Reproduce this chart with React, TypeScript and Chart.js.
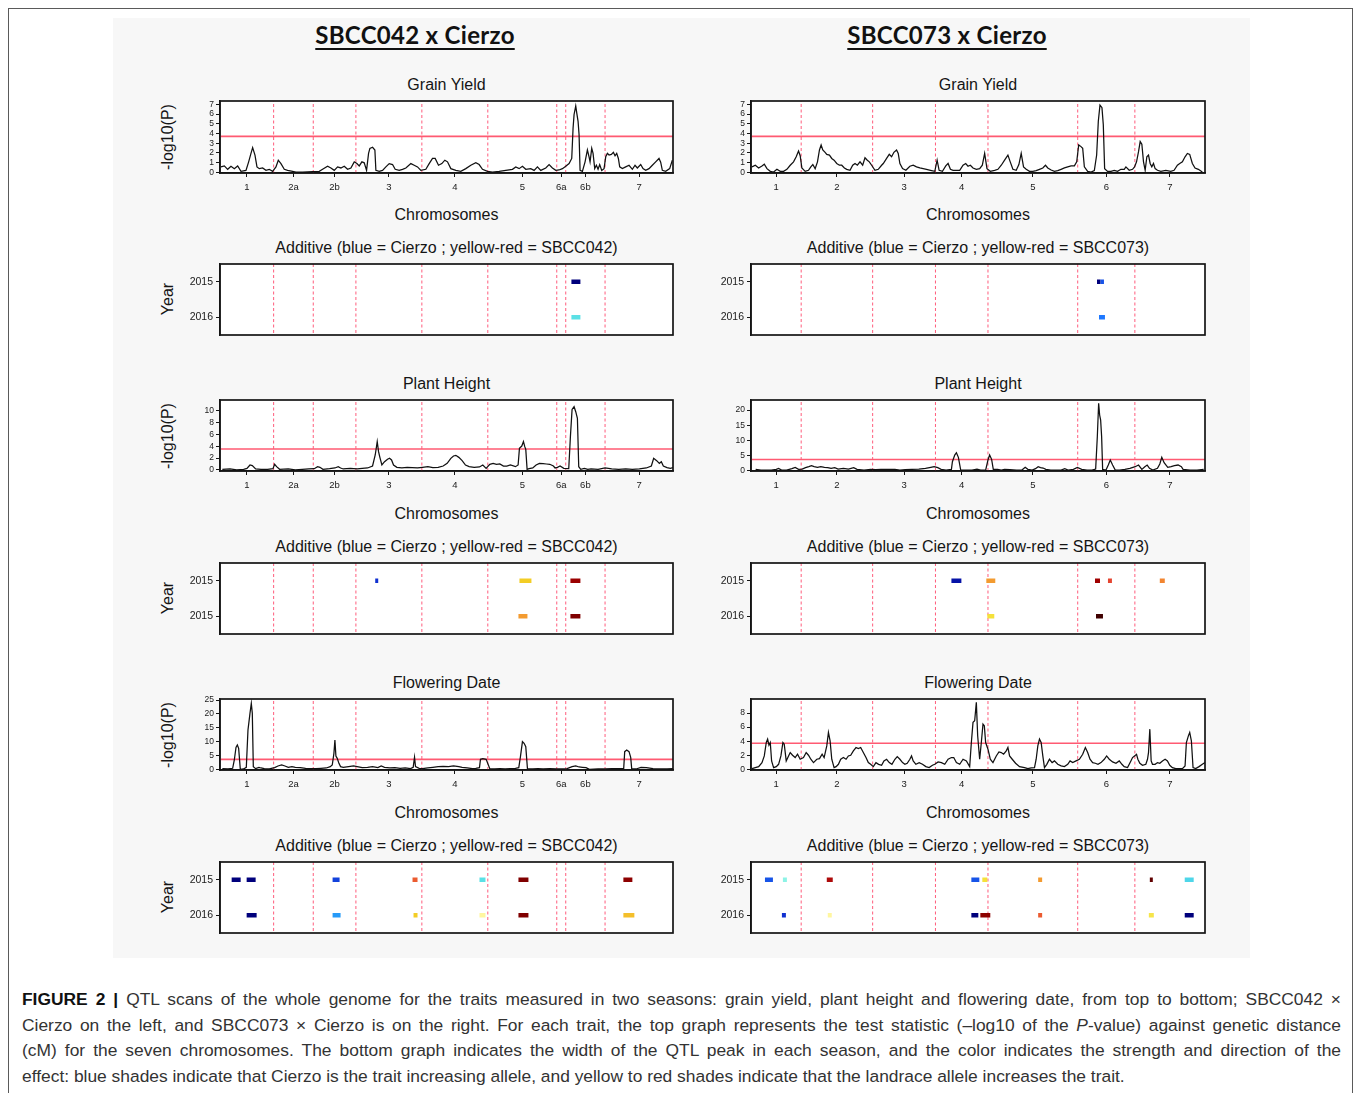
import React, { useEffect, useRef } from 'react';
import { Chart, registerables } from 'chart.js';

Chart.register(...registerables);

const FONT = '"Liberation Sans", Arial, Helvetica, sans-serif';
Chart.defaults.font.family = FONT;
Chart.defaults.color = '#1a1a1a';

// ---------- chromosome maps (cM) ----------
const map042Labels = ['1', '2a', '2b', '3', '4', '5', '6a', '6b', '7'];
const map042Lengths = [161, 119, 128, 198, 198, 207, 27, 118, 204];
const map073Labels = ['1', '2', '3', '4', '5', '6', '7'];
const map073Lengths = [151, 215, 189, 158, 270, 172, 211];

const yearRows = ['2015', '2016'];
const yearRowsPH042 = ['2015', '2015'];

// ---------- y ticks ----------
const ticksGY = [0, 1, 2, 3, 4, 5, 6, 7];
const ticksPH042 = [0, 2, 4, 6, 8, 10];
const ticksPH073 = [0, 5, 10, 15, 20];
const ticksFD042 = [0, 5, 10, 15, 20, 25];
const ticksFD073 = [0, 2, 4, 6, 8];

// significance thresholds (-log10 P)
const thrGY042 = 3.7;
const thrGY073 = 3.7;
const thrPH042 = 3.55;
const thrPH073 = 3.7;
const thrFD042 = 3.6;
const thrFD073 = 3.7;

// ---------- QTL scans: [cumulative cM, -log10(P)] ----------
const gy042 = [[3,0.56],[13,0.66],[23,0.31],[33,0.63],[43,0.38],[53,0.66],[63,0.1],[78,0.2],[86,1.08],[93,1.95],[98,2.54],[105,1.78],[111,0.56],[118,0.38],[128,0.45],[138,0.2],[148,0.31],[158,0.1],[168,0.56],[175,1.25],[183,0.9],[193,0.31],[203,0.2],[218,0.1],[228,0.03],[248,0.03],[278,0.07],[298,0.1],[308,0.31],[323,0.63],[333,0.45],[343,0.2],[353,0.56],[363,0.45],[373,0.63],[383,0.31],[393,0.45],[403,1.08],[411,0.9],[418,0.66],[426,1.08],[433,0.98],[440,0.2],[446,1.95],[450,2.47],[458,2.58],[465,2.3],[468,0.2],[478,0.1],[488,0.2],[498,0.56],[508,0.9],[518,0.8],[526,0.31],[538,0.2],[548,0.31],[558,0.45],[573,0.9],[583,0.73],[593,0.56],[603,0.2],[618,0.31],[628,0.9],[638,1.43],[646,1.43],[656,0.73],[666,0.9],[675,1.25],[683,1.08],[693,0.38],[708,0.2],[723,0.1],[738,0.38],[753,0.73],[768,0.98],[778,0.8],[788,0.31],[803,0.1],[818,0.03],[838,0.1],[858,0.2],[878,0.31],[888,0.56],[898,0.38],[908,0.63],[918,0.31],[933,0.38],[943,0.2],[953,0.56],[963,0.2],[978,0.45],[988,0.8],[998,0.45],[1008,0.2],[1018,0.24],[1028,0.38],[1038,0.63],[1048,0.9],[1056,1.43],[1060,4.56],[1063,5.96],[1068,6.83],[1071,6.13],[1075,5.26],[1078,3.87],[1081,0.2],[1088,0.1],[1096,1.08],[1103,2.3],[1108,1.6],[1111,1.08],[1116,2.47],[1120,1.95],[1125,0.38],[1130,0.73],[1135,0.31],[1140,0.8],[1146,0.2],[1153,0.38],[1158,1.6],[1163,1.95],[1168,1.78],[1175,1.85],[1181,2.06],[1186,1.7],[1191,1.95],[1196,1.43],[1200,0.56],[1208,0.38],[1218,0.56],[1228,0.73],[1238,0.31],[1246,0.73],[1253,0.45],[1263,0.8],[1270,0.38],[1278,0.2],[1288,0.38],[1298,0.73],[1308,1.08],[1318,1.43],[1323,1.05],[1328,0.2],[1338,0.1],[1350,0.38],[1358,1.25]];

const gy073 = [[3,0.56],[13,0.73],[23,0.45],[33,0.66],[40,0.84],[48,0.38],[58,0.1],[68,0.03],[78,0.31],[88,0.1],[98,0.1],[108,0.31],[118,0.73],[128,1.08],[136,1.6],[143,2.2],[148,1.71],[153,0.45],[163,0.1],[173,0.21],[180,0.56],[186,0.8],[193,0.38],[200,1.08],[206,2.3],[211,2.82],[216,2.3],[223,2.06],[228,1.85],[236,1.78],[243,1.43],[250,1.25],[258,0.91],[266,0.73],[273,0.73],[281,0.45],[288,0.31],[298,0.21],[306,0.73],[313,0.91],[320,0.73],[328,1.08],[336,0.73],[343,1.5],[350,1.25],[356,1.08],[363,0.73],[373,0.21],[383,0.31],[393,0.73],[398,0.91],[408,1.43],[416,1.85],[423,1.6],[430,2.06],[438,2.3],[443,1.95],[448,0.91],[456,0.38],[466,0.21],[478,0.63],[488,0.73],[498,0.56],[508,0.45],[518,0.38],[528,0.31],[540,0.21],[553,0.1],[560,1.25],[566,0.21],[576,0.1],[586,0.66],[593,0.91],[600,0.31],[608,0.21],[618,0.21],[628,0.21],[638,0.73],[646,0.91],[653,0.63],[660,0.73],[668,0.45],[678,0.31],[688,0.38],[696,0.73],[703,1.95],[710,0.38],[720,0.1],[733,0.21],[743,0.31],[753,0.73],[763,1.25],[773,1.78],[780,1.08],[788,0.31],[798,0.21],[806,0.8],[813,1.95],[820,0.56],[828,0.31],[838,0.1],[848,0.1],[858,0.17],[868,0.31],[878,0.45],[886,0.73],[893,0.45],[903,0.24],[913,0.1],[923,0.17],[933,0.31],[943,0.45],[953,0.56],[963,0.66],[973,0.66],[980,1.08],[986,2.82],[993,2.65],[998,2.47],[1003,0.56],[1013,0.1],[1023,0.03],[1033,0.17],[1040,1.78],[1045,5.26],[1050,6.93],[1056,6.66],[1060,4.91],[1064,0.38],[1073,0.1],[1083,0.1],[1093,0.21],[1103,0.1],[1113,0.31],[1123,0.31],[1128,0.56],[1138,0.21],[1148,0.31],[1154,0.56],[1160,1.08],[1166,2.13],[1171,3.17],[1176,2.89],[1181,1.08],[1186,0.21],[1191,1.6],[1196,1.78],[1201,0.91],[1206,0.56],[1211,0.91],[1216,0.38],[1223,0.21],[1233,0.1],[1248,0.21],[1263,0.1],[1273,0.21],[1283,0.73],[1290,0.91],[1298,1.08],[1306,1.6],[1313,1.95],[1320,1.85],[1328,0.91],[1336,0.45],[1346,0.31],[1358,0.03]];

const ph042 = [[7,0.11],[30,0.17],[50,0],[71,0.11],[81,0.28],[90,0.84],[97,0.73],[107,0.17],[123,0.11],[143,0.11],[159,0.22],[164,0.96],[170,0.56],[179,0.11],[205,0.17],[226,0],[247,0.11],[267,0.17],[283,0.22],[293,0.56],[300,0.45],[309,0.11],[329,0.22],[345,0.34],[355,0.56],[362,0.34],[370,0.17],[391,0.28],[412,0.17],[427,0.28],[443,0.34],[458,0.67],[466,2.53],[472,4.78],[476,3.09],[480,2.13],[486,0.84],[494,1.4],[503,1.8],[509,1.97],[515,1.69],[521,0.84],[531,0.45],[546,0.34],[562,0.45],[577,0.39],[593,0.34],[608,0.45],[624,0.56],[639,0.39],[655,0.45],[670,0.67],[682,1.12],[693,1.97],[701,2.36],[708,2.47],[717,2.13],[727,1.57],[737,0.84],[748,0.56],[763,0.45],[779,0.51],[789,0.84],[799,0.28],[810,0.96],[820,1.12],[830,0.96],[840,1.01],[851,0.67],[861,0.67],[872,0.84],[887,0.56],[895,0.84],[899,3.65],[906,4.04],[911,4.78],[915,3.93],[918,3.48],[922,0.11],[928,0.22],[939,0.34],[949,0.84],[959,1.12],[970,1.07],[980,1.01],[990,0.96],[1001,0.67],[1006,0.34],[1013,0.45],[1021,0.67],[1032,0.28],[1047,0.22],[1052,5.62],[1057,10.22],[1063,10.67],[1068,9.83],[1073,8.71],[1077,0.56],[1083,0.11],[1094,0.28],[1104,0.11],[1114,0.17],[1135,0.11],[1156,0.34],[1176,0.17],[1197,0.11],[1218,0.17],[1238,0.11],[1259,0.17],[1280,0.34],[1295,0.67],[1302,1.97],[1311,1.57],[1319,1.12],[1325,1.4],[1331,0.67],[1342,0.39],[1352,0.28],[1360,0.39]];

const ph073 = [[14,0.44],[30,0.22],[61,0.22],[76,0.44],[83,0.77],[92,0.22],[107,0.22],[123,0.66],[133,1.1],[143,0.44],[154,0.55],[164,0.99],[174,1.32],[182,1.65],[190,1.32],[200,1.1],[210,1.32],[221,1.1],[231,0.99],[241,0.77],[252,0.99],[262,0.55],[278,0.77],[293,0.55],[309,0.99],[319,0.44],[340,0.22],[360,0.44],[376,0.33],[391,0.44],[412,0.44],[433,0.44],[448,0.22],[464,0.33],[484,0.44],[505,0.55],[525,0.77],[541,1.1],[551,1.32],[562,0.99],[572,0.44],[587,0.22],[603,0.44],[606,2.97],[613,5.16],[618,5.93],[624,4.4],[631,0.22],[649,0.22],[665,0.22],[680,0.55],[691,0.22],[706,0.22],[713,3.52],[718,5.16],[724,3.74],[729,0.44],[742,0.44],[753,0.22],[763,0.44],[779,0.33],[799,0.22],[815,0.22],[825,1.1],[833,0.44],[846,0.22],[856,0.66],[864,1.32],[871,0.99],[879,0.88],[887,0.44],[902,0.22],[918,0.22],[933,0.22],[944,0.66],[954,0.22],[970,0.44],[982,1.1],[995,0.44],[1011,0.22],[1026,0.22],[1037,0.55],[1042,11.2],[1046,22.2],[1049,18.35],[1052,16.7],[1055,11.2],[1058,0.44],[1068,0.22],[1075,1.87],[1081,3.52],[1088,1.87],[1096,0.22],[1109,0.22],[1125,0.44],[1140,0.77],[1156,1.32],[1166,1.87],[1176,0.44],[1185,1.32],[1192,1.87],[1199,0.77],[1209,0.22],[1223,0.77],[1230,2.2],[1236,4.4],[1243,2.64],[1254,1.1],[1264,1.32],[1274,1.65],[1285,1.87],[1295,1.32],[1300,0.44],[1321,0.22],[1342,0.22],[1362,0.44]];

const fd042 = [[7,0.24],[24,0.12],[38,0.36],[43,3.37],[48,7.93],[52,8.77],[56,7.57],[61,0],[71,0.12],[79,0.72],[84,14.2],[90,20.2],[94,23.8],[97,20.2],[100,0.96],[107,0.24],[117,0.72],[123,0.48],[133,0.24],[148,0.12],[164,0.6],[174,1.2],[185,1.56],[195,1.2],[205,0.72],[216,0.96],[226,0.72],[241,0.6],[257,0.36],[272,0.24],[288,0.24],[303,0.36],[319,0.48],[331,0.96],[337,1.56],[342,5.77],[345,10.58],[348,4.81],[352,3.97],[357,2.16],[362,0.96],[370,0.72],[386,0.96],[401,1.2],[412,0.96],[427,0.6],[443,0.72],[458,0.96],[474,0.6],[484,1.2],[494,0.72],[510,0.48],[525,0.6],[541,0.36],[556,0.48],[572,0.24],[580,0.72],[584,4.33],[587,0.96],[598,0.36],[608,0.24],[624,0.48],[639,0.72],[655,0.96],[670,1.08],[686,0.96],[701,1.2],[717,0.96],[727,0.72],[742,0.48],[758,0.24],[768,0.36],[779,0.6],[782,3.6],[789,3.85],[799,3.6],[810,0.24],[825,0.12],[840,0.24],[856,0.12],[871,0.24],[887,0.36],[897,0.6],[902,4.57],[908,9.98],[913,9.38],[918,8.17],[923,0.24],[939,0.12],[954,0.24],[970,0.12],[990,0.24],[1011,0.12],[1026,0.12],[1042,0.24],[1057,0.96],[1068,1.2],[1078,0.84],[1088,0.72],[1099,0.6],[1109,0],[1135,0.12],[1156,0.12],[1176,0.24],[1197,0.24],[1212,0.36],[1215,6.37],[1221,6.97],[1228,6.37],[1233,4.33],[1236,0.24],[1249,0.12],[1264,0.72],[1280,0.6],[1300,0.24],[1321,0.12],[1342,0.12],[1360,0.24]];

const fd073 = [[3,0.1],[13,0.24],[23,0.38],[33,0.95],[40,1.9],[46,3.81],[50,4.29],[54,3.43],[58,3.81],[62,1.19],[68,0.24],[76,0.38],[83,0.71],[90,1.9],[96,3.81],[100,3.57],[106,1.19],[113,1.9],[118,2.38],[125,2.0],[133,1.67],[140,2.14],[148,1.43],[158,1.67],[166,2.38],[173,2.0],[180,1.43],[188,0.95],[198,1.43],[206,1.52],[214,2.14],[220,1.67],[228,3.33],[233,5.24],[238,4.05],[243,1.43],[250,0.24],[256,0.38],[263,0.71],[270,1.43],[278,1.67],[286,1.43],[293,1.9],[300,2.0],[308,2.62],[316,3.1],[323,2.95],[330,3.1],[338,2.38],[346,1.67],[353,0.95],[360,0.71],[368,0.38],[376,0.95],[384,0.71],[393,0.57],[400,1.19],[408,1.43],[416,0.95],[424,0.71],[433,1.43],[440,1.81],[448,1.43],[456,0.95],[463,0.71],[470,0.86],[478,1.43],[483,1.9],[488,1.19],[496,0.71],[506,0.95],[516,0.71],[526,0.38],[536,0.24],[546,0.57],[553,0.71],[563,1.05],[573,0.95],[583,0.71],[593,1.43],[603,1.67],[610,1.67],[618,0.95],[628,0.71],[638,1.43],[648,1.19],[658,0.38],[663,3.81],[668,6.67],[673,6.9],[678,9.52],[682,4.76],[688,1.43],[693,3.81],[698,6.43],[702,6.19],[706,3.81],[713,2.86],[720,1.43],[728,0.95],[738,1.9],[746,2.48],[753,2.38],[760,2.14],[768,2.62],[773,3.1],[778,1.9],[786,1.43],[796,0.86],[808,0.38],[823,0.24],[833,0.1],[843,0.19],[853,0.24],[858,1.43],[863,3.33],[868,4.29],[873,3.81],[878,1.9],[883,0.24],[890,0.71],[898,1.43],[906,0.95],[913,1.19],[923,0.71],[933,0.48],[943,0.38],[953,0.71],[960,1.19],[968,0.95],[978,1.19],[988,1.43],[998,2.14],[1006,3.1],[1013,2.38],[1020,1.43],[1028,0.95],[1036,0.86],[1044,0.71],[1053,0.95],[1063,1.43],[1070,1.9],[1078,1.43],[1088,1.05],[1098,0.86],[1108,1.19],[1116,0.71],[1123,0.38],[1133,0.24],[1143,1.19],[1148,1.67],[1154,1.9],[1160,2.14],[1164,1.43],[1170,0.86],[1178,0.57],[1188,0.71],[1193,1.43],[1196,2.38],[1200,5.71],[1204,1.19],[1208,0.71],[1216,0.71],[1223,0.95],[1230,0.86],[1238,1.19],[1246,1.43],[1253,1.19],[1260,0.57],[1268,0.24],[1278,0.1],[1288,0.1],[1298,0.1],[1306,0.48],[1310,3.81],[1316,4.76],[1320,5.24],[1325,4.05],[1330,0.24],[1338,0.1],[1348,0.38],[1358,0.71],[1366,0.95]];

// ---------- additive effects: [start cM, end cM, effect (-1 = Cierzo strong, +1 = landrace strong)] ----------
const addGY042_2015 = [[1055, 1082, -0.85]];
const addGY042_2016 = [[1055, 1082, -0.15]];
const addGY073_2015 = [[1041, 1051, -0.85], [1051, 1062, -0.5]];
const addGY073_2016 = [[1047, 1065, -0.4]];

const addPH042_2015 = [[466, 475, -0.6], [899, 935, 0.3], [1052, 1082, 0.86]];
const addPH042_2016 = [[896, 923, 0.45], [1052, 1082, 0.9]];
const addPH073_2015 = [[603, 633, -0.72], [708, 735, 0.45], [1035, 1050, 0.85], [1074, 1086, 0.65], [1230, 1245, 0.5]];
const addPH073_2016 = [[711, 732, 0.22], [1038, 1059, 1.0]];

const addFD042_2015 = [[35, 62, -0.85], [80, 107, -0.85], [338, 359, -0.55], [578, 593, 0.6], [779, 797, -0.15], [896, 926, 0.9], [1211, 1238, 0.88]];
const addFD042_2016 = [[80, 110, -0.85], [338, 362, -0.33], [581, 593, 0.3], [779, 797, 0.1], [896, 926, 0.9], [1211, 1244, 0.35]];
const addFD073_2015 = [[42, 66, -0.5], [96, 108, -0.08], [228, 246, 0.82], [663, 687, -0.5], [696, 711, 0.22], [864, 876, 0.45], [1200, 1209, 0.95], [1305, 1332, -0.18]];
const addFD073_2016 = [[93, 105, -0.6], [231, 243, 0.1], [663, 684, -0.85], [690, 720, 0.88], [864, 876, 0.6], [1197, 1212, 0.2], [1305, 1332, -0.85]];

// colour scale for additive effect
const effectStops: [number, string][] = [
  [-1, '#000050'], [-0.8, '#00008b'], [-0.6, '#1030d0'], [-0.4, '#1e78ff'], [-0.25, '#30c0f0'], [-0.1, '#70f0e0'],
  [0, '#ffffff'], [0.1, '#fff6a0'], [0.25, '#f2dc20'], [0.4, '#f5b030'], [0.55, '#f07030'], [0.7, '#e03030'],
  [0.85, '#a00000'], [1, '#400000'],
];

function hexToRgb(h: string) {
  return [parseInt(h.slice(1, 3), 16), parseInt(h.slice(3, 5), 16), parseInt(h.slice(5, 7), 16)];
}
function effectColor(e: number) {
  for (let i = 0; i < effectStops.length - 1; i++) {
    const [a, ca] = effectStops[i];
    const [b, cb] = effectStops[i + 1];
    if (e >= a && e <= b) {
      const t = (e - a) / (b - a);
      const A = hexToRgb(ca), B = hexToRgb(cb);
      const c = A.map((v, k) => Math.round(v + (B[k] - v) * t));
      return `rgb(${c[0]},${c[1]},${c[2]})`;
    }
  }
  return '#000';
}

function cumulative(lengths: number[]) {
  const out = [0];
  lengths.forEach((l) => out.push(out[out.length - 1] + l));
  return out;
}

type Box = { x: number; y: number; w: number; h: number };

const YW = 50;
const PT = 10;
const PR = 10;
const XH = 30;

const framePlugin = {
  id: 'frame',
  beforeDraw(chart: any) {
    const { ctx, chartArea: a } = chart;
    ctx.save();
    ctx.fillStyle = '#ffffff';
    ctx.fillRect(a.left, a.top, a.right - a.left, a.bottom - a.top);
    ctx.restore();
  },
  afterDraw(chart: any) {
    const { ctx, chartArea: a } = chart;
    ctx.save();
    ctx.strokeStyle = '#151515';
    ctx.lineWidth = 1.7;
    ctx.strokeRect(a.left, a.top, a.right - a.left, a.bottom - a.top);
    ctx.restore();
  },
};

const axisGrid = { drawOnChartArea: false, drawTicks: true, tickLength: 4, color: '#151515', lineWidth: 1 };
const axisBorder = { display: true, color: '#151515', width: 1.5 };

function LinePanel(props: {
  box: Box; data: number[][]; labels: string[]; lengths: number[];
  ymin: number; ymax: number; yticks: number[]; threshold: number;
}) {
  const ref = useRef<HTMLCanvasElement>(null);
  const { box } = props;
  const W = box.w + YW + PR;
  const H = box.h + PT + XH;
  useEffect(() => {
    const { data, labels, lengths, ymin, ymax, yticks, threshold } = props;
    const bounds = cumulative(lengths);
    const total = bounds[bounds.length - 1];
    const centers = lengths.map((l, i) => bounds[i] + l / 2);
    const datasets: any[] = [
      { data: data.map(([x, y]) => ({ x, y })), borderColor: '#111', borderWidth: 1.25, pointRadius: 0, showLine: true, tension: 0 },
      { data: [{ x: 0, y: threshold }, { x: total, y: threshold }], borderColor: '#ff5a72', borderWidth: 1.6, pointRadius: 0, showLine: true },
      ...bounds.slice(1, -1).map((b) => ({
        data: [{ x: b, y: ymin }, { x: b, y: ymax }], borderColor: '#ff5c7c', borderWidth: 1, borderDash: [3, 2.5], pointRadius: 0, showLine: true,
      })),
    ];
    const chart = new Chart(ref.current as HTMLCanvasElement, {
      type: 'scatter',
      data: { datasets },
      plugins: [framePlugin],
      options: {
        animation: false,
        responsive: false,
        events: [],
        layout: { padding: { top: PT, right: PR, left: 0, bottom: 0 } },
        plugins: { legend: { display: false }, tooltip: { enabled: false } },
        scales: {
          x: {
            type: 'linear', min: 0, max: total,
            afterBuildTicks: (s: any) => { s.ticks = centers.map((v) => ({ value: v })); },
            afterFit: (s: any) => { s.height = XH; },
            ticks: { autoSkip: false, maxRotation: 0, padding: 5, font: { size: 9.5 }, color: '#1a1a1a', callback: (_v: any, i: number) => labels[i] },
            grid: axisGrid, border: axisBorder,
          },
          y: {
            type: 'linear', min: ymin, max: ymax,
            afterBuildTicks: (s: any) => { s.ticks = yticks.map((v) => ({ value: v })); },
            afterFit: (s: any) => { s.width = YW; },
            ticks: { autoSkip: false, padding: 2, font: { size: 8.5 }, color: '#1a1a1a' },
            grid: axisGrid, border: axisBorder,
          },
        },
      } as any,
    });
    return () => chart.destroy();
  }, []);
  return (
    <canvas ref={ref} width={W} height={H}
      style={{ position: 'absolute', left: box.x - YW, top: box.y - PT, width: W, height: H }} />
  );
}

function StripPanel(props: { box: Box; lengths: number[]; rows: string[]; seg2015: number[][]; seg2016: number[][] }) {
  const ref = useRef<HTMLCanvasElement>(null);
  const { box } = props;
  const W = box.w + YW + PR;
  const H = box.h + PT * 2;
  useEffect(() => {
    const { lengths, rows, seg2015, seg2016 } = props;
    const bounds = cumulative(lengths);
    const total = bounds[bounds.length - 1];
    const segDs = (segs: number[][], row: number) => segs.map(([s, e, eff]) => ({
      data: [{ x: s, y: row }, { x: e, y: row }], borderColor: effectColor(eff), borderWidth: 4.5,
      borderCapStyle: 'butt', pointRadius: 0, showLine: true,
    }));
    const datasets: any[] = [
      ...segDs(seg2015, 0.5),
      ...segDs(seg2016, 1.5),
      ...bounds.slice(1, -1).map((b) => ({
        data: [{ x: b, y: 0 }, { x: b, y: 2 }], borderColor: '#ff5c7c', borderWidth: 1, borderDash: [3, 2.5], pointRadius: 0, showLine: true,
      })),
    ];
    const chart = new Chart(ref.current as HTMLCanvasElement, {
      type: 'scatter',
      data: { datasets },
      plugins: [framePlugin],
      options: {
        animation: false,
        responsive: false,
        events: [],
        layout: { padding: { top: PT, right: PR, left: 0, bottom: PT } },
        plugins: { legend: { display: false }, tooltip: { enabled: false } },
        scales: {
          x: { type: 'linear', min: 0, max: total, display: false },
          y: {
            type: 'linear', min: 0, max: 2, reverse: true,
            afterBuildTicks: (s: any) => { s.ticks = [{ value: 0.5 }, { value: 1.5 }]; },
            afterFit: (s: any) => { s.width = YW; },
            ticks: { autoSkip: false, padding: 3, font: { size: 10.5 }, color: '#1a1a1a', callback: (_v: any, i: number) => rows[i] },
            grid: axisGrid, border: axisBorder,
          },
        },
      } as any,
    });
    return () => chart.destroy();
  }, []);
  return (
    <canvas ref={ref} width={W} height={H}
      style={{ position: 'absolute', left: box.x - YW, top: box.y - PT, width: W, height: H }} />
  );
}

function Label(props: { x: number; y: number; text: string; size?: number; rotate?: boolean }) {
  const { x, y, text, size = 16, rotate } = props;
  return (
    <div style={{
      position: 'absolute', left: x, top: y, transform: `translate(-50%, -50%)${rotate ? ' rotate(-90deg)' : ''}`,
      whiteSpace: 'nowrap', fontSize: size, fontFamily: FONT, color: '#151515', lineHeight: 1,
    }}>{text}</div>
  );
}

const L = { x: 220, w: 453 };
const R = { x: 751, w: 454 };
const rowsY = { gy: 101, gyS: 264, ph: 400, phS: 563, fd: 699, fdS: 862 };

export default function App() {
  useEffect(() => {
    document.body.style.margin = '0';
    document.body.style.background = '#ffffff';
  }, []);
  const cxL = L.x + L.w / 2;
  const cxR = R.x + R.w / 2;
  const captionLine: React.CSSProperties = {
    position: 'absolute', left: 22, width: 1319, height: 25.5, lineHeight: '25.5px', fontSize: 17.4,
    fontFamily: FONT, color: '#333', whiteSpace: 'nowrap', textAlign: 'justify', textAlignLast: 'justify' as any,
  };
  return (
    <div style={{ position: 'absolute', left: 0, top: 0, width: 1358, height: 1093, overflow: 'hidden', background: '#fff' }}>
      <div style={{ position: 'absolute', left: 8, top: 8, width: 1345, height: 1120, border: '1px solid #5a5a5a', boxSizing: 'border-box' }} />
      <div style={{ position: 'absolute', left: 113, top: 18, width: 1137, height: 940, background: '#f7f7f7' }} />

      {/* main titles */}
      {[{ x: 415, t: 'SBCC042 x Cierzo' }, { x: 947, t: 'SBCC073 x Cierzo' }].map((m) => (
        <div key={m.t} style={{
          position: 'absolute', left: m.x, top: 35, transform: 'translate(-50%, -50%)', whiteSpace: 'nowrap',
          fontFamily: 'Lato, "Open Sans", sans-serif', fontWeight: 700, fontSize: 24, letterSpacing: 0.3, color: '#111',
          textDecoration: 'underline', textDecorationThickness: '2px', textUnderlineOffset: '4px', lineHeight: 1,
        }}>{m.t}</div>
      ))}

      {/* trait titles */}
      {[{ y: 85, t: 'Grain Yield' }, { y: 384, t: 'Plant Height' }, { y: 683, t: 'Flowering Date' }].map((r) => (
        <React.Fragment key={r.t}>
          <Label x={cxL} y={r.y} text={r.t} />
          <Label x={cxR} y={r.y} text={r.t} />
        </React.Fragment>
      ))}
      {[215, 514, 813].map((y) => (
        <React.Fragment key={'c' + y}>
          <Label x={cxL} y={y} text="Chromosomes" />
          <Label x={cxR} y={y} text="Chromosomes" />
        </React.Fragment>
      ))}
      {[248, 547, 846].map((y) => (
        <React.Fragment key={'a' + y}>
          <Label x={cxL} y={y} text="Additive (blue = Cierzo ; yellow-red = SBCC042)" />
          <Label x={cxR} y={y} text="Additive (blue = Cierzo ; yellow-red = SBCC073)" />
        </React.Fragment>
      ))}
      {[137, 436, 735].map((y) => <Label key={'p' + y} x={168} y={y} text="-log10(P)" rotate />)}
      {[299, 598, 897].map((y) => <Label key={'y' + y} x={168} y={y} text="Year" rotate />)}

      {/* Grain yield */}
      <LinePanel box={{ x: L.x, y: rowsY.gy, w: L.w, h: 72 }} data={gy042} labels={map042Labels} lengths={map042Lengths} ymin={-0.07} ymax={7.35} yticks={ticksGY} threshold={thrGY042} />
      <LinePanel box={{ x: R.x, y: rowsY.gy, w: R.w, h: 72 }} data={gy073} labels={map073Labels} lengths={map073Lengths} ymin={-0.07} ymax={7.35} yticks={ticksGY} threshold={thrGY073} />
      <StripPanel box={{ x: L.x, y: rowsY.gyS, w: L.w, h: 71 }} lengths={map042Lengths} rows={yearRows} seg2015={addGY042_2015} seg2016={addGY042_2016} />
      <StripPanel box={{ x: R.x, y: rowsY.gyS, w: R.w, h: 71 }} lengths={map073Lengths} rows={yearRows} seg2015={addGY073_2015} seg2016={addGY073_2016} />

      {/* Plant height */}
      <LinePanel box={{ x: L.x, y: rowsY.ph, w: L.w, h: 71 }} data={ph042} labels={map042Labels} lengths={map042Lengths} ymin={-0.17} ymax={11.8} yticks={ticksPH042} threshold={thrPH042} />
      <LinePanel box={{ x: R.x, y: rowsY.ph, w: R.w, h: 71 }} data={ph073} labels={map073Labels} lengths={map073Lengths} ymin={-0.1} ymax={23.3} yticks={ticksPH073} threshold={thrPH073} />
      <StripPanel box={{ x: L.x, y: rowsY.phS, w: L.w, h: 71 }} lengths={map042Lengths} rows={yearRowsPH042} seg2015={addPH042_2015} seg2016={addPH042_2016} />
      <StripPanel box={{ x: R.x, y: rowsY.phS, w: R.w, h: 71 }} lengths={map073Lengths} rows={yearRows} seg2015={addPH073_2015} seg2016={addPH073_2016} />

      {/* Flowering date */}
      <LinePanel box={{ x: L.x, y: rowsY.fd, w: L.w, h: 71 }} data={fd042} labels={map042Labels} lengths={map042Lengths} ymin={-0.25} ymax={25.4} yticks={ticksFD042} threshold={thrFD042} />
      <LinePanel box={{ x: R.x, y: rowsY.fd, w: R.w, h: 71 }} data={fd073} labels={map073Labels} lengths={map073Lengths} ymin={-0.1} ymax={10.0} yticks={ticksFD073} threshold={thrFD073} />
      <StripPanel box={{ x: L.x, y: rowsY.fdS, w: L.w, h: 71 }} lengths={map042Lengths} rows={yearRows} seg2015={addFD042_2015} seg2016={addFD042_2016} />
      <StripPanel box={{ x: R.x, y: rowsY.fdS, w: R.w, h: 71 }} lengths={map073Lengths} rows={yearRows} seg2015={addFD073_2015} seg2016={addFD073_2016} />

      {/* caption */}
      <div style={{ ...captionLine, top: 987 }}>
        <b style={{ color: '#111' }}>FIGURE 2 |</b> QTL scans of the whole genome for the traits measured in two seasons: grain yield, plant height and flowering date, from top to bottom; SBCC042 ×
      </div>
      <div style={{ ...captionLine, top: 1012.5 }}>
        Cierzo on the left, and SBCC073 × Cierzo is on the right. For each trait, the top graph represents the test statistic (–log10 of the <i>P</i>-value) against genetic distance
      </div>
      <div style={{ ...captionLine, top: 1038 }}>
        (cM) for the seven chromosomes. The bottom graph indicates the width of the QTL peak in each season, and the color indicates the strength and direction of the
      </div>
      <div style={{ ...captionLine, top: 1063.5, textAlign: 'left', textAlignLast: 'left' as any }}>
        effect: blue shades indicate that Cierzo is the trait increasing allele, and yellow to red shades indicate that the landrace allele increases the trait.
      </div>
    </div>
  );
}
